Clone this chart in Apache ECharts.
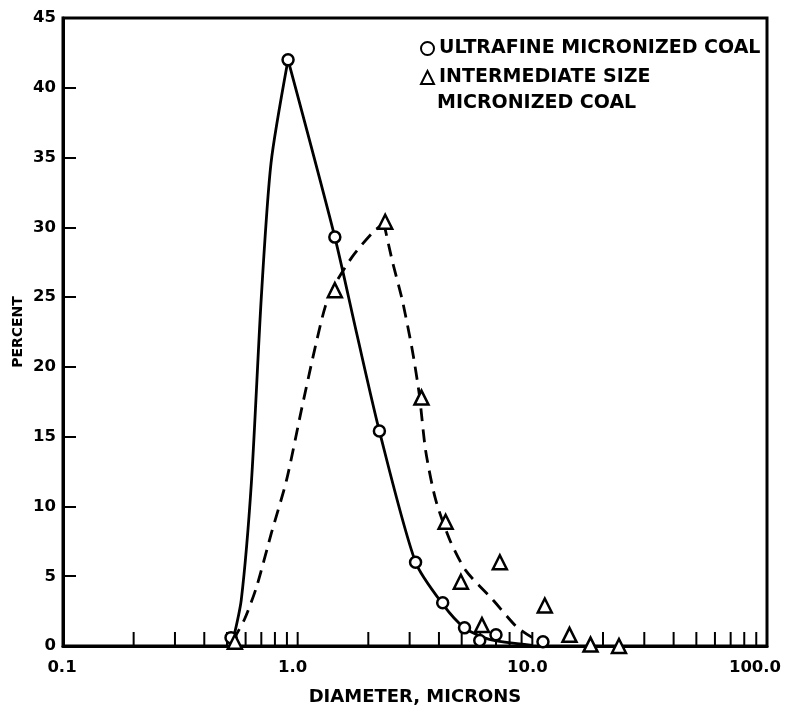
<!DOCTYPE html>
<html>
<head>
<meta charset="utf-8">
<script src="https://cdn.jsdelivr.net/npm/echarts@6/dist/echarts.min.js"></script>
<style>
  html, body { margin: 0; padding: 0; background: #fff; }
  #chart { width: 787px; height: 708px; }
</style>
</head>
<body>
<div id="chart"></div>
<script>
// Measured size distributions: [diameter (microns), percent]
const ultrafinePoints = [
  [0.52, 0.6], [0.91, 42.0], [1.44, 29.3], [2.23, 15.4], [3.18, 6.0],
  [4.15, 3.1], [5.14, 1.3], [5.97, 0.4], [7.0, 0.8], [11.1, 0.3]
];
const intermediatePoints = [
  [0.54, 0.3], [1.44, 25.5], [2.36, 30.4], [3.37, 17.8], [4.27, 8.9],
  [4.96, 4.6], [6.1, 1.5], [7.27, 6.0], [11.3, 2.9], [14.4, 0.8],
  [17.7, 0.1], [23.4, 0.0]
];

// Hand-faired curves, each drawn as a rising and a falling branch
const ultrafineRise = [
  [0.53, 0.4], [0.575, 3.3], [0.635, 11.7], [0.70, 25.0], [0.77, 34.6],
  [0.91, 42.0]
];
const ultrafineFall = [
  [0.91, 42.0], [1.44, 29.3], [1.79, 22.3], [2.23, 15.4], [3.18, 6.0],
  [4.15, 3.0], [5.14, 1.3], [6.5, 0.5], [10.0, 0.05]
];
const intermediateRise = [
  [0.53, 0.4], [0.593, 1.9], [0.667, 4.2], [0.773, 8.1], [0.897, 11.9],
  [1.04, 17.0], [1.18, 21.2], [1.31, 24.3], [1.44, 25.9], [1.71, 27.9],
  [2.08, 29.6], [2.33, 30.3]
];
const intermediateFall = [
  [2.33, 30.3], [2.53, 27.6], [2.79, 24.8], [3.08, 21.2], [3.30, 18.0],
  [3.51, 14.0], [3.87, 10.5], [4.45, 7.6], [5.21, 5.4], [6.8, 3.3],
  [8.54, 1.4], [10.0, 0.6]
];

// Axis ticks and labels
const xMajorTicks = [0.1, 1, 10, 100];
const xMinorTicks = [
  0.2, 0.3, 0.4, 0.5, 0.6, 0.7, 0.8, 0.9, 1,
  2, 3, 4, 5, 6, 7, 8, 9, 10,
  20, 30, 40, 50, 60, 70, 80, 90
];
const yTicks = [0, 5, 10, 15, 20, 25, 30, 35, 40, 45];

const NAME_ULTRA = 'ULTRAFINE MICRONIZED COAL';
const NAME_INTER = 'INTERMEDIATE SIZE';
const FONT = '"DejaVu Sans", sans-serif';

const chart = echarts.init(document.getElementById('chart'), null, { renderer: 'canvas' });

const labelStyle = { color: '#000', fontFamily: FONT, fontWeight: 'bold', fontSize: 16.5 };
const richBase = { fontFamily: FONT, fontWeight: 'bold', fontSize: 16.5, color: '#000' };

function curveSeries(data, dash) {
  return {
    type: 'line',
    data: data,
    smooth: 0.25,
    showSymbol: false,
    symbol: 'none',
    silent: true,
    z: 2,
    lineStyle: { color: '#000', width: 2.8, type: dash }
  };
}

chart.setOption({
  backgroundColor: '#fff',
  animation: false,
  grid: {
    left: 63, right: 20, top: 18, bottom: 62,
    containLabel: false,
    outerBoundsMode: 'none',
    show: true, borderColor: '#000', borderWidth: 3, backgroundColor: 'transparent'
  },
  legend: {
    orient: 'vertical',
    left: 415, top: 33,
    itemWidth: 13, itemHeight: 13,
    itemGap: 8,
    selectedMode: false,
    data: [
      { name: NAME_ULTRA, icon: 'circle' },
      { name: NAME_INTER, icon: 'triangle' }
    ],
    textStyle: Object.assign({}, labelStyle, { fontSize: 19, lineHeight: 21 })
  },
  graphic: [{
    type: 'text',
    left: 437, top: 94,
    style: { text: 'MICRONIZED COAL', fill: '#000', font: 'bold 19px ' + FONT }
  }],
  xAxis: {
    type: 'log', logBase: 10, min: 0.1, max: 100,
    name: 'DIAMETER, MICRONS', nameLocation: 'middle', nameGap: 42,
    nameMoveOverlap: false,
    nameTextStyle: Object.assign({}, labelStyle, { fontSize: 18, verticalAlign: 'top' }),
    axisLine: { show: true, lineStyle: { color: '#000', width: 3 } },
    axisTick: { show: false },
    splitLine: { show: false },
    axisLabel: Object.assign({}, labelStyle, {
      margin: 13,
      formatter: v => {
        if (!xMajorTicks.includes(v)) return '';
        const t = v.toFixed(1);
        if (v === 100) return '{last|' + t + '}';
        if (v === 0.1) return '{first|' + t + '}';
        return '{std|' + t + '}';
      },
      rich: {
        first: Object.assign({}, richBase, { padding: [0, 2, 0, 0] }),
        std: Object.assign({}, richBase, { padding: [0, 10, 0, 0] }),
        last: Object.assign({}, richBase, { padding: [0, 24, 0, 0] })
      }
    })
  },
  yAxis: {
    type: 'value', min: 0, max: 45, interval: 5,
    name: 'PERCENT', nameLocation: 'middle', nameGap: 38,
    nameMoveOverlap: false,
    nameTextStyle: Object.assign({}, labelStyle, { fontSize: 14 }),
    axisLine: { show: true, lineStyle: { color: '#000', width: 3 } },
    axisTick: { show: true, inside: true, length: 13, lineStyle: { color: '#000', width: 2 } },
    splitLine: { show: false },
    axisLabel: Object.assign({}, labelStyle, {
      margin: 7,
      formatter: v => yTicks.includes(v) ? String(v) : ''
    })
  },
  series: [
    {
      // logarithmic minor ticks along the diameter axis
      type: 'custom',
      silent: true,
      clip: false,
      z: 1,
      data: xMinorTicks.map(v => [v, 0]),
      renderItem: (params, api) => {
        const p = api.coord([api.value(0), 0]);
        return {
          type: 'line',
          shape: { x1: p[0], y1: p[1], x2: p[0], y2: p[1] - 14 },
          style: { stroke: '#000', lineWidth: 2 }
        };
      }
    },
    curveSeries(ultrafineRise, 'solid'),
    curveSeries(ultrafineFall, 'solid'),
    curveSeries(intermediateRise, [13, 8]),
    curveSeries(intermediateFall, [13, 8]),
    {
      name: NAME_ULTRA,
      type: 'scatter',
      data: ultrafinePoints,
      symbol: 'circle',
      symbolSize: 11,
      z: 3,
      itemStyle: { color: '#fff', borderColor: '#000', borderWidth: 2.5, opacity: 1 }
    },
    {
      name: NAME_INTER,
      type: 'scatter',
      data: intermediatePoints,
      symbol: 'triangle',
      symbolSize: 14,
      z: 3,
      itemStyle: { color: '#fff', borderColor: '#000', borderWidth: 2.5, opacity: 1 }
    }
  ]
});
</script>
</body>
</html>
